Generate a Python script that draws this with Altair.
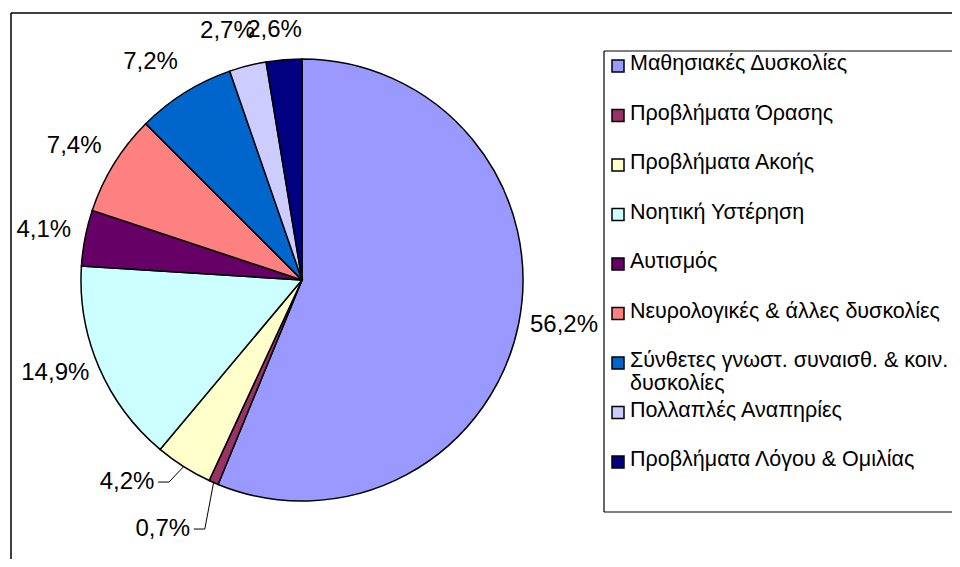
import altair as alt
import pandas as pd

# ---- data ----
categories = [
    "Μαθησιακές Δυσκολίες",
    "Προβλήματα Όρασης",
    "Προβλήματα Ακοής",
    "Νοητική Υστέρηση",
    "Αυτισμός",
    "Νευρολογικές & άλλες δυσκολίες",
    "Σύνθετες γνωστ. συναισθ. & κοιν. δυσκολίες",
    "Πολλαπλές Αναπηρίες",
    "Προβλήματα Λόγου & Ομιλίας",
]
legend_text = [
    "Μαθησιακές Δυσκολίες",
    "Προβλήματα Όρασης",
    "Προβλήματα Ακοής",
    "Νοητική Υστέρηση",
    "Αυτισμός",
    "Νευρολογικές & άλλες δυσκολίες",
    "Σύνθετες γνωστ. συναισθ. & κοιν.\nδυσκολίες",
    "Πολλαπλές Αναπηρίες",
    "Προβλήματα Λόγου & Ομιλίας",
]
values = [56.2, 0.7, 4.2, 14.9, 4.1, 7.4, 7.2, 2.7, 2.6]
colors = ["#9999FF", "#993366", "#FFFFCC", "#CCFFFF", "#660066",
          "#FF8080", "#0066CC", "#CCCCFF", "#000080"]

# ---- layout ----
W, H = 944, 551
CX, CY, R = 294, 272, 221      # pie centre and radius (px)
RL = 263                        # label radius
FONT = "Liberation Sans"
# label placement tweaks (as the spreadsheet placed them): index -> (dx, dy)
nudge = {0: (4, -6), 1: (-34, 8), 2: (-34, -20), 3: (-5, -11),
         5: (-4, 4), 6: (-12, 5), 7: (-10, 6), 8: (-6, 12)}
leader_idx = [1, 2]

n = len(values)
df = pd.DataFrame({
    "idx": list(range(n)),
    "cat": categories,
    "legend": legend_text,
    "value": values,
    "label": [f"{v:.1f}".replace(".", ",") + "%" for v in values],
    "nx": [nudge.get(i, (0, 0))[0] for i in range(n)],
    "ny": [nudge.get(i, (0, 0))[1] for i in range(n)],
    "leader": [1 if i in leader_idx else 0 for i in range(n)],
})

color = alt.Color("cat:N", scale=alt.Scale(domain=categories, range=colors), legend=None)

one = pd.DataFrame({"a": [0]})


def hline(x, x2, y, w=1.5):
    return alt.Chart(one).mark_rule(color="black", strokeWidth=w).encode(
        x=alt.value(x), x2=alt.value(x2), y=alt.value(y))


def vline(x, y, y2, w=1.5):
    return alt.Chart(one).mark_rule(color="black", strokeWidth=w).encode(
        x=alt.value(x), y=alt.value(y), y2=alt.value(y2))


frame = [hline(3, 2000, 5), vline(3, 5, 2000)]
legend_fill = alt.Chart(one).mark_rect(fill="white").encode(
    x=alt.value(596), x2=alt.value(2000), y=alt.value(43), y2=alt.value(504))
legend_edges = [hline(596, 2000, 43, 1.2), hline(596, 2000, 504, 1.2), vline(596, 43, 504, 1.2)]

pie = alt.Chart(df).mark_arc(outerRadius=R, stroke="black", strokeWidth=1.5).encode(
    theta=alt.Theta("value:Q", stack=True),
    order=alt.Order("idx:Q"),
    color=color,
    x=alt.value(CX), y=alt.value(CY),
)

lbl_base = (
    alt.Chart(df)
    .transform_window(cum="sum(value)", sort=[alt.SortField("idx")], frame=[None, 0])
    .transform_joinaggregate(total="sum(value)")
    .transform_calculate(ang="2*PI*(datum.cum - datum.value/2)/datum.total")
    .transform_calculate(
        lx=f"{CX} + {RL}*sin(datum.ang) + datum.nx",
        ly=f"{CY} - {RL}*cos(datum.ang) + datum.ny",
        ex=f"{CX} + {R}*sin(datum.ang)",
        ey=f"{CY} - {R}*cos(datum.ang)",
    )
    .transform_calculate(bx="datum.lx + 42", tx="datum.lx + 31")
)

labels = lbl_base.mark_text(font=FONT, fontSize=24, color="black",
                            align="center", baseline="middle").encode(
    x=alt.X("lx:Q", scale=None, axis=None),
    y=alt.Y("ly:Q", scale=None, axis=None),
    text="label:N",
)

lead1 = lbl_base.transform_filter("datum.leader == 1").mark_rule(color="black", strokeWidth=1).encode(
    x=alt.X("ex:Q", scale=None, axis=None), y=alt.Y("ey:Q", scale=None, axis=None),
    x2="bx:Q", y2="ly:Q")
lead2 = lbl_base.transform_filter("datum.leader == 1").mark_rule(color="black", strokeWidth=1).encode(
    x=alt.X("bx:Q", scale=None, axis=None), y=alt.Y("ly:Q", scale=None, axis=None),
    x2="tx:Q")

ypos = alt.Y("cat:N", sort=categories, axis=None,
             scale=alt.Scale(type="point", range=[58, 454], padding=0))
leg_sym = alt.Chart(df).mark_square(size=144, opacity=1, stroke="black", strokeWidth=1.5).encode(
    x=alt.value(610), y=ypos, color=color)
leg_txt = alt.Chart(df).mark_text(font=FONT, fontSize=21.5, color="black", align="left",
                                  baseline="top", dy=-13, lineBreak="\n",
                                  lineHeight=23).encode(
    x=alt.value(622), y=ypos, text="legend:N")

chart = alt.layer(
    *frame, pie, labels, lead1, lead2,
    legend_fill, *legend_edges, leg_sym, leg_txt,
).resolve_scale(y="independent", x="independent").properties(
    width=W, height=H, padding=0, autosize=alt.AutoSizeParams(type="none"),
    background="white",
).configure_view(stroke=None)

chart.save("out.html", embed_options={"renderer": "svg", "actions": False})
